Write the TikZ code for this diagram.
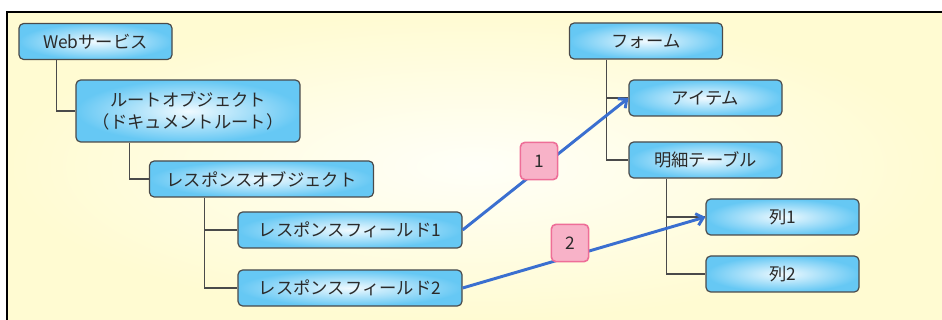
\documentclass[tikz,border=0pt]{standalone}
\usepackage{fontspec}
\newfontfamily\jpfont{Noto Sans CJK JP}
\usetikzlibrary{arrows.meta,calc,positioning}
\definecolor{bgin}{HTML}{FFFFF8}
\definecolor{bgout}{HTML}{FFFBD2}
\definecolor{boxin}{HTML}{F0FAFF}
\definecolor{boxout}{HTML}{66C8F4}
\definecolor{boxedge}{HTML}{4A4A4A}
\definecolor{textgray}{HTML}{2A2A2A}
\definecolor{linkblue}{HTML}{3A6FD0}
\definecolor{badgefill}{HTML}{F8B2C8}
\definecolor{badgeedge}{HTML}{EE6E98}

\begin{document}
\begin{tikzpicture}[x=0.75pt,y=-0.75pt,
  obj/.style={draw=boxedge, line width=0.9pt, rounded corners=3.5pt,
    inner color=boxin, outer color=boxout, minimum width=114.75pt,
    minimum height=27pt, text=textgray,
    font=\jpfont\fontsize{13}{16}\selectfont},
  wide/.style={obj, minimum width=168pt},
  tree/.style={draw=boxedge, line width=0.8pt},
  link/.style={draw=linkblue, line width=2.2pt,
    -{Straight Barb[length=5pt,width=9pt]}},
  badge/.style={draw=badgeedge, line width=1.2pt, fill=badgefill,
    rounded corners=3.5pt, minimum size=28pt, inner sep=0pt,
    text=textgray, font=\jpfont\fontsize{13}{16}\selectfont}]
\useasboundingbox (0,0) rectangle (942,320);
% background and frame
\fill[white] (0,0) rectangle (942,320);
\shade[inner color=bgin, outer color=bgout] (7,12) rectangle (942,320);
\draw[black, line width=0.9pt] (7,320) -- (7,12) -- (942,12);

% left tree
\node[obj] (web) at (95.5,41.5) {Webサービス};
\node[wide, minimum height=46.5pt, align=center] (root) at (188,111)
  {ルートオブジェクト\\（ドキュメントルート）};
\node[wide] (resp) at (261.5,179) {レスポンスオブジェクト};
\node[wide] (fld1) at (350,230) {レスポンスフィールド1};
\node[wide] (fld2) at (350,288) {レスポンスフィールド2};

% right tree
\node[obj] (form) at (646,41) {フォーム};
\node[obj] (item) at (705.5,98) {アイテム};
\node[obj] (detail) at (705.5,160) {明細テーブル};
\node[obj] (col1) at (782.5,217) {列1};
\node[obj] (col2) at (782.5,274) {列2};

\draw[tree] ($(web.south west)+(38,0)$) |- (root.west);
\draw[tree] ($(root.south west)+(54,0)$) |- (resp.west);
\foreach \f in {fld1,fld2}
  \draw[tree] ($(resp.south west)+(56,0)$) |- (\f.west);
\foreach \f in {item,detail}
  \draw[tree] ($(form.south west)+(38,0)$) |- (\f.west);
\foreach \f in {col1,col2}
  \draw[tree] ($(detail.south west)+(38,0)$) |- (\f.west);

% mappings
\draw[link] (fld1.east) -- (item.west);
\draw[link] (fld2.east) -- (col1.west);
\node[badge] (n1) at (539,161) {1};
\node[badge] (n2) at (570,243) {2};
\end{tikzpicture}
\end{document}
